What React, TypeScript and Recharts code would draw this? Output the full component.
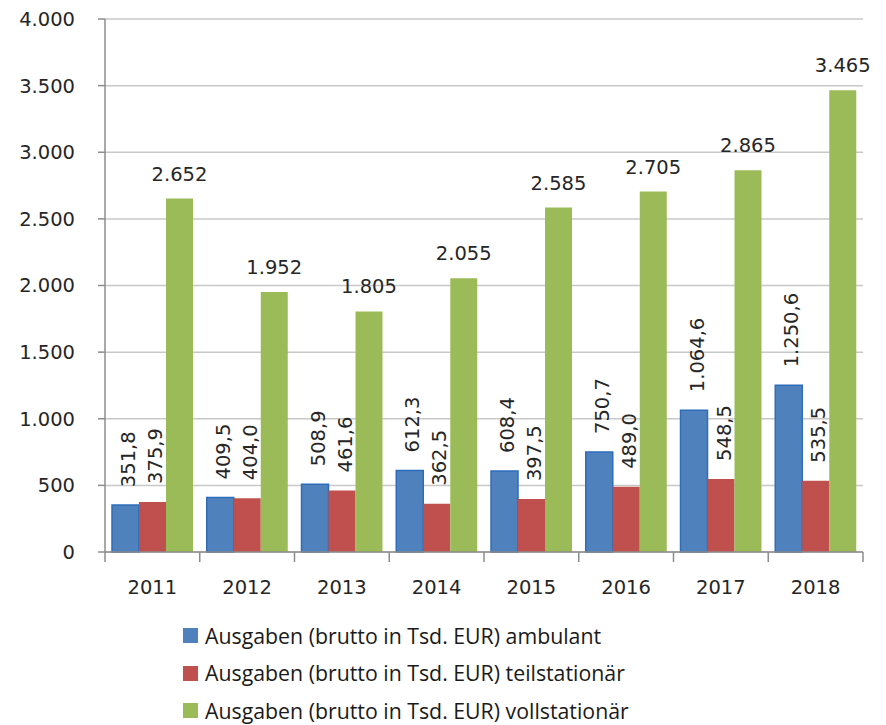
import { Bar, BarChart, CartesianGrid, LabelList, Legend, XAxis, YAxis } from 'recharts'

const years = ['2011', '2012', '2013', '2014', '2015', '2016', '2017', '2018']
const ambulant = [351.8, 409.5, 508.9, 612.3, 608.4, 750.7, 1064.6, 1250.6]
const teilstationaer = [375.9, 404.0, 461.6, 362.5, 397.5, 489.0, 548.5, 535.5]
const vollstationaer = [2652, 1952, 1805, 2055, 2585, 2705, 2865, 3465]
const yTicks = [0, 500, 1000, 1500, 2000, 2500, 3000, 3500, 4000]

const series = [
  { key: 'ambulant', name: 'Ausgaben (brutto in Tsd. EUR) ambulant', color: '#4F81BD', stroke: '#2E6DBA' },
  { key: 'teil', name: 'Ausgaben (brutto in Tsd. EUR) teilstationär', color: '#C0504D', stroke: 'none' },
  { key: 'voll', name: 'Ausgaben (brutto in Tsd. EUR) vollstationär', color: '#9BBB59', stroke: 'none' },
]

const data = years.map((year, i) => ({
  year,
  ambulant: ambulant[i],
  teil: teilstationaer[i],
  voll: vollstationaer[i],
}))

const W = 886
const H = 725
const M = { top: 19, right: 23, left: 0, bottom: 9 }
const Y_AXIS_W = 105
const BAND = (W - M.left - M.right - Y_AXIS_W) / years.length
const X_TICK_MARGIN = 28

const AXIS = '#8c8c8c'
const GRID = '#c8c8c8'
const TEXT = '#262626'
const NUM_FONT = '"DejaVu Sans", Verdana, sans-serif'

// German number format: thousands ".", decimals ","
function de(v: number, decimals: number) {
  const [int, frac] = v.toFixed(decimals).split('.')
  const grouped = int.replace(/\B(?=(\d{3})+(?!\d))/g, '.')
  return frac ? `${grouped},${frac}` : grouped
}

// category label plus the Excel-style tick marks between categories
function YearTick(props: any) {
  const { x, y, payload, index } = props
  const axisY = y - X_TICK_MARGIN
  const left = x - BAND / 2
  const right = x + BAND / 2
  return (
    <g>
      <line x1={left} x2={left} y1={axisY} y2={axisY + 10} stroke={AXIS} strokeWidth={1.5} />
      {index === years.length - 1 && (
        <line x1={right} x2={right} y1={axisY} y2={axisY + 10} stroke={AXIS} strokeWidth={1.5} />
      )}
      <text x={x} y={y} dy={14} textAnchor="middle" fill={TEXT} fontSize={19.5} fontFamily={NUM_FONT}>
        {payload.value}
      </text>
    </g>
  )
}

function RotatedLabel(props: any) {
  const { x, y, width, value } = props
  const cx = Number(x) + Number(width) / 2 + 3
  const cy = Number(y) - 18
  return (
    <text
      x={cx}
      y={cy}
      transform={`rotate(-90, ${cx}, ${cy})`}
      textAnchor="start"
      dominantBaseline="central"
      fontFamily={NUM_FONT}
      fontSize={19.5}
      fill={TEXT}
    >
      {de(Number(value), 1)}
    </text>
  )
}

function LegendBox() {
  return (
    <div style={{ fontFamily: '"Open Sans", sans-serif', fontSize: 21.3, color: '#1a1a1a', lineHeight: '26px' }}>
      {series.map((s) => (
        <div key={s.key} style={{ display: 'flex', alignItems: 'center', height: 37.5 }}>
          <span style={{ width: 15, height: 15, background: s.color, marginRight: 7, display: 'inline-block' }} />
          <span>{s.name}</span>
        </div>
      ))}
    </div>
  )
}

export default function App() {
  return (
    <div style={{ position: 'absolute', left: 0, top: 0, width: W, height: H, background: '#fff', overflow: 'hidden' }}>
      <BarChart width={W} height={H} data={data} margin={M} barCategoryGap="7.4%" barGap={0}>
        <CartesianGrid vertical={false} stroke={GRID} strokeWidth={1.5} />
        <XAxis
          dataKey="year"
          axisLine={{ stroke: AXIS, strokeWidth: 1.5 }}
          tickLine={false}
          tickSize={0}
          tickMargin={X_TICK_MARGIN}
          height={50}
          interval={0}
          tick={YearTick}
        />
        <YAxis
          width={Y_AXIS_W}
          domain={[0, 4000]}
          ticks={yTicks}
          interval={0}
          axisLine={{ stroke: AXIS, strokeWidth: 1.5 }}
          tickLine={{ stroke: AXIS, strokeWidth: 1.5 }}
          tickSize={7}
          tickMargin={23}
          tickFormatter={(v) => de(Number(v), 0)}
          tick={{ fill: TEXT, fontSize: 19.5, fontFamily: NUM_FONT }}
        />
        <Legend
          layout="vertical"
          align="center"
          verticalAlign="bottom"
          content={() => <LegendBox />}
          wrapperStyle={{ position: 'absolute', left: 183, top: 617, width: 520, height: 114 }}
        />
        <Bar dataKey="ambulant" name={series[0].name} fill={series[0].color} stroke={series[0].stroke} strokeWidth={1.5} isAnimationActive={false}>
          <LabelList dataKey="ambulant" content={RotatedLabel} />
        </Bar>
        <Bar dataKey="teil" name={series[1].name} fill={series[1].color} isAnimationActive={false}>
          <LabelList dataKey="teil" content={RotatedLabel} />
        </Bar>
        <Bar dataKey="voll" name={series[2].name} fill={series[2].color} isAnimationActive={false}>
          <LabelList
            dataKey="voll"
            position="top"
            offset={18}
            formatter={(v: any) => de(Number(v), 0)}
            style={{ fill: TEXT, fontSize: 19.5, fontFamily: NUM_FONT }}
          />
        </Bar>
      </BarChart>
    </div>
  )
}
